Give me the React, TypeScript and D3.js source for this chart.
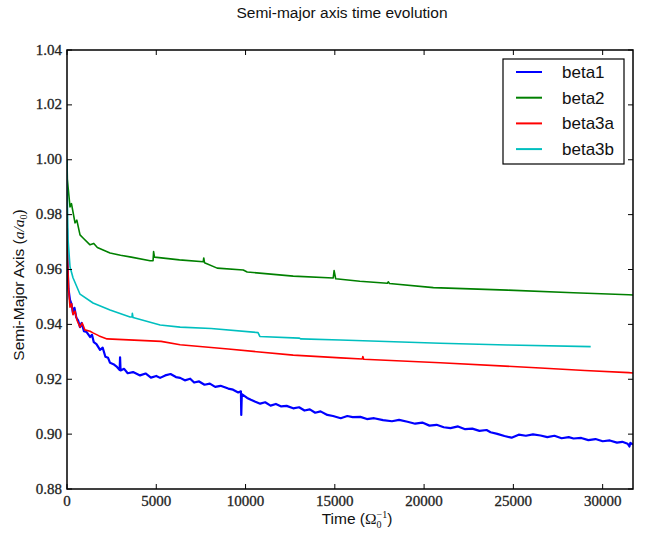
import React from "react";
import * as d3 from "d3";

const xTicks = [0, 5000, 10000, 15000, 20000, 25000, 30000];
const yTicks = [0.88, 0.9, 0.92, 0.94, 0.96, 0.98, 1.0, 1.02, 1.04];

const beta1: [number, number][] = [
  [0, 0.975], [30, 0.962], [80, 0.953], [168, 0.9489], [250, 0.9475], [336, 0.944], [420, 0.946],
  [520, 0.9425], [620, 0.9415], [729, 0.939], [820, 0.9405], [950, 0.9375], [1100, 0.9372],
  [1290, 0.9354], [1400, 0.9362], [1500, 0.9335], [1650, 0.9328], [1850, 0.9307], [2000, 0.9315],
  [2150, 0.9282], [2300, 0.9278], [2411, 0.926], [2600, 0.9255], [2800, 0.9245], [2950, 0.9234],
  [2972, 0.928], [3000, 0.9232], [3200, 0.9238], [3400, 0.9222], [3700, 0.9226], [4093, 0.9214],
  [4400, 0.9221], [4700, 0.9206], [5000, 0.9212], [5215, 0.9205], [5500, 0.9214], [5800, 0.9219],
  [6100, 0.9208], [6336, 0.9205], [6600, 0.9196], [6900, 0.9202], [7120, 0.9188], [7400, 0.9192],
  [7700, 0.918], [8000, 0.9184], [8300, 0.9172], [8600, 0.9176], [9030, 0.9166], [9300, 0.9162],
  [9590, 0.9152], [9740, 0.9156], [9760, 0.907], [9790, 0.9146], [10090, 0.9132], [10300, 0.9125],
  [10550, 0.9118], [10820, 0.9111], [11100, 0.9116], [11400, 0.9104], [11700, 0.911], [12000, 0.9101],
  [12300, 0.9103], [12670, 0.9094], [13000, 0.9098], [13300, 0.9086], [13600, 0.909], [13900, 0.9078],
  [14200, 0.9083], [14580, 0.907], [14900, 0.9066], [15330, 0.9058], [15700, 0.9066], [16000, 0.9062],
  [16430, 0.9063], [16800, 0.9055], [17200, 0.9058], [17700, 0.9051], [18200, 0.9047], [18600, 0.9052],
  [19070, 0.9045], [19500, 0.9038], [19900, 0.9042], [20300, 0.9031], [20700, 0.9034], [21100, 0.9025],
  [21480, 0.9022], [21900, 0.9028], [22300, 0.9018], [22700, 0.902], [23100, 0.9012], [23500, 0.9015],
  [23720, 0.9007], [24100, 0.9001], [24500, 0.8993], [24900, 0.8987], [25300, 0.8998], [25700, 0.8994],
  [26100, 0.8999], [26520, 0.8995], [26900, 0.8989], [27300, 0.8994], [27700, 0.8985], [28100, 0.8989],
  [28370, 0.8984], [28800, 0.8986], [29200, 0.8978], [29600, 0.8982], [30000, 0.8974], [30400, 0.8977],
  [30800, 0.8969], [31100, 0.8972], [31400, 0.8965], [31500, 0.8955], [31550, 0.8968], [31700, 0.8962],
];

const beta2: [number, number][] = [
  [0, 1.0], [20, 0.993], [60, 0.99], [168, 0.9828], [250, 0.984], [449, 0.977], [550, 0.978],
  [729, 0.9726], [900, 0.9715], [1290, 0.969], [1500, 0.9695], [1700, 0.968], [2411, 0.966],
  [3000, 0.9652], [3600, 0.9645], [4654, 0.9632], [4820, 0.9632], [4850, 0.9665], [4900, 0.9645],
  [6300, 0.9635], [7630, 0.9628], [7660, 0.9642], [7700, 0.9625], [8410, 0.9605], [9870, 0.9598],
  [10090, 0.9591], [12670, 0.9576], [14910, 0.9569], [14960, 0.9596], [15050, 0.9566],
  [16400, 0.9557], [17940, 0.955], [18000, 0.9555], [18060, 0.9549], [20520, 0.9534],
  [24670, 0.9525], [28370, 0.9515], [31460, 0.9508], [31700, 0.9507],
];

const beta3a: [number, number][] = [
  [0, 0.975], [40, 0.962], [100, 0.952], [168, 0.9463], [260, 0.9475], [336, 0.9435], [449, 0.9448],
  [560, 0.9415], [729, 0.939], [850, 0.9405], [1000, 0.938], [1290, 0.9375], [1458, 0.9369],
  [1800, 0.9358], [2243, 0.9347], [5270, 0.9338], [6336, 0.9326], [9030, 0.931], [12670, 0.9288],
  [15330, 0.9278], [16540, 0.9274], [16570, 0.9283], [16620, 0.9273], [20900, 0.926],
  [26520, 0.9241], [29000, 0.9232], [31460, 0.9224], [31700, 0.9223],
];

const beta3b: [number, number][] = [
  [0, 1.0], [20, 0.985], [60, 0.9708], [168, 0.961], [336, 0.957], [729, 0.951], [1458, 0.9478],
  [2411, 0.9452], [3532, 0.9427], [3640, 0.9427], [3660, 0.944], [3700, 0.9425], [5215, 0.9398],
  [6336, 0.939], [8070, 0.9385], [10700, 0.937], [10800, 0.9356], [13000, 0.935], [13100, 0.9347],
  [15300, 0.9343], [20900, 0.9331], [24670, 0.9325], [29330, 0.9319],
];

const series = [
  { name: "beta1", data: beta1, color: "#0000ff", width: 2.2 },
  { name: "beta2", data: beta2, color: "#008000", width: 1.6 },
  { name: "beta3a", data: beta3a, color: "#ff0000", width: 1.6 },
  { name: "beta3b", data: beta3b, color: "#00bfbf", width: 1.6 },
];

const W = 650;
const H = 533;
const L = 67, R = 633, T = 50, B = 489;

export default function App() {
  const x = d3.scaleLinear().domain([0, 31700]).range([L, R]);
  const y = d3.scaleLinear().domain([0.88, 1.04]).range([B, T]);
  const line = d3
    .line<[number, number]>()
    .x((d) => x(d[0]))
    .y((d) => y(d[1]));
  const serif = "'Liberation Serif', 'DejaVu Serif', serif";
  const sans = "'Liberation Sans', Arial, sans-serif";
  const tl = 5;
  return (
    <svg width={W} height={H} style={{ position: "absolute", left: 0, top: 0, background: "#fff" }}>
      <text x={342} y={18} textAnchor="middle" fontFamily={sans} fontSize={15.5} fill="#111">
        Semi-major axis time evolution
      </text>
      <defs>
        <clipPath id="clip">
          <rect x={L} y={T} width={R - L} height={B - T} />
        </clipPath>
      </defs>
      <g clipPath="url(#clip)">
        {series.map((s) => (
          <path key={s.name} d={line(s.data) || ""} fill="none" stroke={s.color} strokeWidth={s.width} strokeLinejoin="round" />
        ))}
      </g>
      {xTicks.map((t) => (
        <g key={"x" + t}>
          <line x1={x(t)} x2={x(t)} y1={B} y2={B - tl} stroke="#000" strokeWidth={1} />
          <line x1={x(t)} x2={x(t)} y1={T} y2={T + tl} stroke="#000" strokeWidth={1} />
          <text x={x(t)} y={506} textAnchor="middle" fontFamily={serif} fontSize={15} fill="#222" stroke="#222" strokeWidth={0.3}>
            {t}
          </text>
        </g>
      ))}
      {yTicks.map((t) => (
        <g key={"y" + t}>
          <line x1={L} x2={L + tl} y1={y(t)} y2={y(t)} stroke="#000" strokeWidth={1} />
          <line x1={R} x2={R - tl} y1={y(t)} y2={y(t)} stroke="#000" strokeWidth={1} />
          <text x={62} y={y(t) + 4.5} textAnchor="end" fontFamily={serif} fontSize={15} fill="#222" stroke="#222" strokeWidth={0.3}>
            {t.toFixed(2)}
          </text>
        </g>
      ))}
      <rect x={L} y={T} width={R - L} height={B - T} fill="none" stroke="#000" strokeWidth={1.5} />
      <g transform="translate(503,59)">
        <rect x={0} y={0} width={121} height={105} fill="#fff" stroke="#000" strokeWidth={1.2} />
        {series.map((s, i) => (
          <g key={s.name} transform={`translate(0,${13 + i * 25.7})`}>
            <line x1={13} x2={39} y1={0} y2={0} stroke={s.color} strokeWidth={2} />
            <text x={59} y={6} fontFamily={sans} fontSize={17} fill="#111">
              {s.name}
            </text>
          </g>
        ))}
      </g>
      <text x={357} y={524} textAnchor="middle" fontFamily={sans} fontSize={15.5} fill="#111">
        Time (
        <tspan fontFamily={serif}>Ω</tspan>
        <tspan fontFamily={serif} fontSize={10} dy={4}>0</tspan>
        <tspan fontFamily={serif} fontSize={10} dx={-5} dy={-10}>−1</tspan>
        <tspan dy={6}>)</tspan>
      </text>
      <text transform="translate(24,285) rotate(-90)" textAnchor="middle" fontFamily={sans} fontSize={15.5} fill="#111">
        Semi-Major Axis (
        <tspan fontFamily={serif} fontStyle="italic">a/a</tspan>
        <tspan fontFamily={serif} fontSize={10} dy={3}>0</tspan>
        <tspan dy={-3}>)</tspan>
      </text>
    </svg>
  );
}
